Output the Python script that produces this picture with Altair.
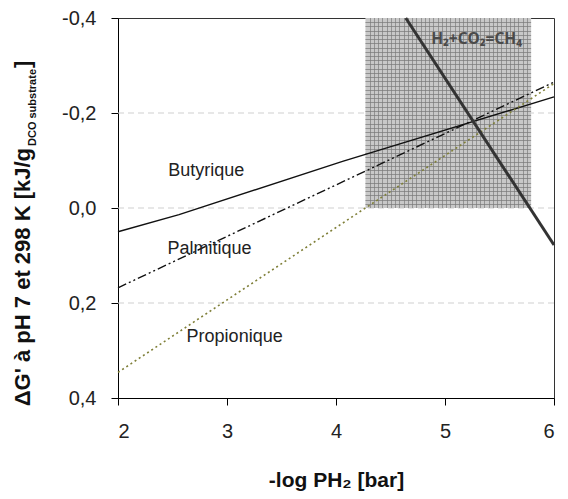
import altair as alt
import pandas as pd

# ---- data ----
x_but = [2.0, 2.56, 4.06, 6.0]
y_but = [0.050, 0.014, -0.098, -0.234]
x_pal = [2.0, 6.0]
y_pal = [0.168, -0.265]
x_pro = [2.0, 4.27, 6.0]
y_pro = [0.346, 0.0, -0.262]
x_ch4 = [4.64, 6.0]
y_ch4 = [-0.4, 0.078]
zone_x = [4.27, 5.79]
zone_y = [-0.4, 0.0]
label_names = ["Butyrique", "Palmitique", "Propionique"]
label_x = [2.81, 2.84, 3.07]
label_y = [-0.078, 0.087, 0.271]
ch4_label = ["H₂+CO₂=CH₄"]
ch4_label_x = [5.29]
ch4_label_y = [-0.356]
x_ticks = [2, 3, 4, 5, 6]
y_ticks = [-0.4, -0.2, 0.0, 0.2, 0.4]
grid_y = [-0.2, 0.0, 0.2]

W, H = 436, 380
FONT = "Liberation Sans"

x_scale = alt.Scale(domain=[2, 6], nice=False, zero=False)
y_scale = alt.Scale(domain=[-0.4, 0.4], nice=False, zero=False, reverse=True)

x_axis = alt.Axis(values=x_ticks, grid=False, tickSize=7, labelPadding=16,
                  labelFontSize=20, labelFont=FONT, labelColor="#222",
                  domainColor="#000", tickColor="#000", format="d",
                  title="-log PH₂ [bar]", titleFont=FONT, titleFontSize=21,
                  titleFontWeight="bold", titleColor="#111", titlePadding=28)
y_axis = alt.Axis(values=y_ticks, grid=False,
                  tickSize=7, labelPadding=15, labelFontSize=20, labelFont=FONT,
                  labelColor="#222", domainColor="#000", tickColor="#000",
                  labelExpr="replace(replace(format(datum.value, '.1f'), '.', ','), '\u2212', '-')",
                  title=None)


def X(field="x"):
    return alt.X(f"{field}:Q", scale=x_scale, axis=x_axis)


def Y(field="y"):
    return alt.Y(f"{field}:Q", scale=y_scale, axis=y_axis)


# ---- dashed horizontal gridlines ----
grid = alt.Chart(pd.DataFrame({"y": grid_y})).mark_rule(
    color="#cfcfcf", strokeWidth=1, strokeDash=[6, 4]).encode(y=Y())

# ---- shaded zone with a grid pattern (styling via gradients) ----
zone = pd.DataFrame({"x": [zone_x[0]], "x2": [zone_x[1]],
                     "y": [zone_y[0]], "y2": [zone_y[1]]})
zone_w = (zone_x[1] - zone_x[0]) * W / 4
zone_h = (zone_y[1] - zone_y[0]) * H / 0.8
spacing = 4.25


def stripe_stops(size, base, line):
    n = int(size // spacing)
    w = 1.0 / size
    stops = [alt.GradientStop(offset=0, color=base)]
    for i in range(1, n + 1):
        p = i / (n + 1)
        stops += [alt.GradientStop(offset=p, color=base),
                  alt.GradientStop(offset=p, color=line),
                  alt.GradientStop(offset=min(p + w, 1), color=line),
                  alt.GradientStop(offset=min(p + w, 1), color=base)]
    stops.append(alt.GradientStop(offset=1, color=base))
    return stops


grad_v = alt.LinearGradient(gradient="linear", x1=0, y1=0, x2=1, y2=0,
                            stops=stripe_stops(zone_w, "#c8c8c8", "#939393"))
grad_h = alt.LinearGradient(gradient="linear", x1=0, y1=0, x2=0, y2=1,
                            stops=stripe_stops(zone_h, "rgba(0,0,0,0)", "rgba(120,120,120,0.7)"))

zone_base = alt.Chart(zone).mark_rect(fill=grad_v).encode(
    x=X(), x2="x2:Q", y=Y(), y2="y2:Q")
zone_over = alt.Chart(zone).mark_rect(fill=grad_h).encode(
    x=X(), x2="x2:Q", y=Y(), y2="y2:Q")

# ---- curves ----
but = alt.Chart(pd.DataFrame({"x": x_but, "y": y_but})).mark_line(
    color="#111", strokeWidth=1.4).encode(x=X(), y=Y())
pal = alt.Chart(pd.DataFrame({"x": x_pal, "y": y_pal})).mark_line(
    color="#111", strokeWidth=1.4, strokeDash=[9, 3, 2, 3, 2, 3]).encode(x=X(), y=Y())
pro = alt.Chart(pd.DataFrame({"x": x_pro, "y": y_pro})).mark_line(
    color="#7f7f38", strokeWidth=1.6, strokeDash=[2, 3]).encode(x=X(), y=Y())
ch4 = alt.Chart(pd.DataFrame({"x": x_ch4, "y": y_ch4})).mark_line(
    color="#333", strokeWidth=3).encode(x=X(), y=Y())

labels = alt.Chart(pd.DataFrame({"x": label_x, "y": label_y, "t": label_names})).mark_text(
    font=FONT, fontSize=18, color="#222", baseline="middle", align="center").encode(
    x=X(), y=Y(), text="t:N")
ch4_text = alt.Chart(pd.DataFrame({"x": ch4_label_x, "y": ch4_label_y, "t": ch4_label})).mark_text(
    font="Noto Sans", fontSize=15.5, fontWeight="bold", color="#4a4a4a",
    baseline="middle", align="center").encode(
    x=X(), y=Y(), text="t:N")

# ---- y title composed of text pieces (subscript) ----
one = alt.Data(values=[{"a": 1}])
yt_main = alt.Chart(one).mark_text(
    text="ΔG' à pH 7 et 298 K [kJ/g", font=FONT, fontSize=22, fontWeight="bold",
    color="#111", angle=270, align="right", baseline="middle").encode(
    x=alt.value(-95), y=alt.value(130))
yt_sub = alt.Chart(one).mark_text(
    text="DCO substrate", font=FONT, fontSize=11, fontWeight="bold",
    color="#111", angle=270, align="left", baseline="middle").encode(
    x=alt.value(-85), y=alt.value(128))
yt_end = alt.Chart(one).mark_text(
    text="]", font=FONT, fontSize=22, fontWeight="bold",
    color="#111", angle=270, align="left", baseline="middle").encode(
    x=alt.value(-95), y=alt.value(50))

chart = alt.layer(grid, zone_base, zone_over, but, pal, pro, ch4, labels, ch4_text,
                  yt_main, yt_sub, yt_end).properties(
    width=W, height=H,
    autosize=alt.AutoSizeParams(type="none"),
    padding={"left": 110, "top": 10, "right": 6, "bottom": 93},
    background="white",
).configure_view(stroke="#333", strokeWidth=1)

chart.save("out.html", embed_options={"renderer": "svg", "actions": False})
